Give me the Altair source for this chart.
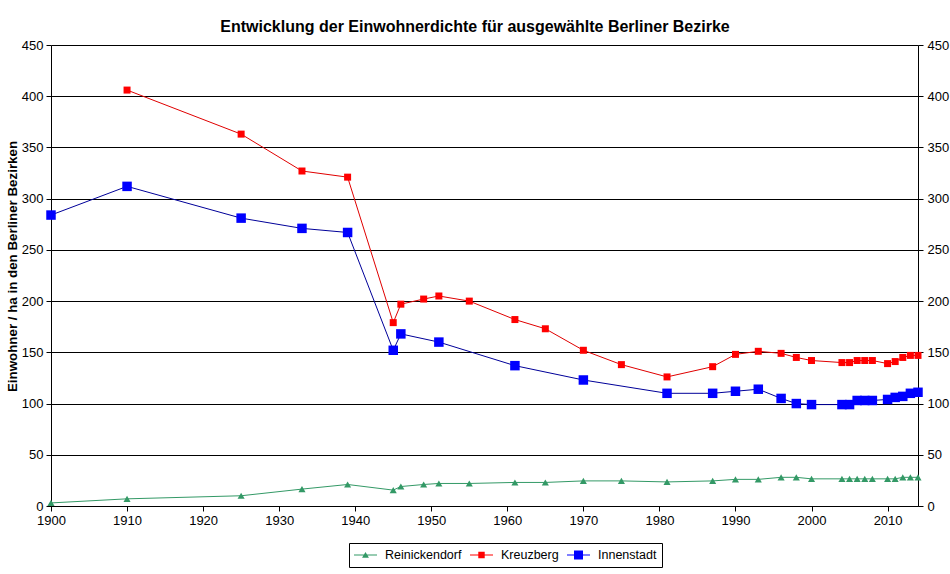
import altair as alt
import pandas as pd

# Einwohner je Hektar in ausgewählten Berliner Bezirken
jahre_reinickendorf = [1900, 1910, 1925, 1933, 1939, 1945, 1946, 1949, 1951, 1955,
                       1961, 1965, 1970, 1975, 1981, 1987, 1990, 1993, 1996, 1998,
                       2000, 2004, 2005, 2006, 2007, 2008, 2010, 2011, 2012, 2013, 2014]
werte_reinickendorf = [3, 7, 10, 16.5, 21, 15.5, 19, 21, 22, 22,
                       23, 23, 24.5, 24.5, 23.5, 24.5, 26, 26, 28, 28,
                       26.5, 26.5, 26.5, 26.5, 26.5, 26.5, 26.5, 26.5, 28, 28, 28]

jahre_kreuzberg = [1910, 1925, 1933, 1939, 1945, 1946, 1949, 1951, 1955, 1961,
                   1965, 1970, 1975, 1981, 1987, 1990, 1993, 1996, 1998, 2000,
                   2004, 2005, 2006, 2007, 2008, 2010, 2011, 2012, 2013, 2014]
werte_kreuzberg = [406, 363, 327, 321, 179, 197, 202, 205, 200, 182,
                   173, 152, 138, 126, 136, 148, 151, 149, 145, 142,
                   140, 140, 142, 142, 142, 139, 141, 145, 147, 147]

jahre_innenstadt = [1900, 1910, 1925, 1933, 1939, 1945, 1946, 1951, 1961, 1970,
                    1981, 1987, 1990, 1993, 1996, 1998, 2000,
                    2004, 2005, 2006, 2007, 2008, 2010, 2011, 2012, 2013, 2014]
werte_innenstadt = [284, 312, 281, 271, 267, 152, 168, 160, 137, 123,
                    110, 110, 112, 114, 105, 100, 99,
                    99, 99, 103, 103, 103, 104, 106, 107, 110, 111]

bezirke = ["Reinickendorf", "Kreuzberg", "Innenstadt"]
linienfarben = ["#339966", "#E00000", "#000099"]
markerfarben = ["#339966", "#FF0000", "#0000FF"]
markerformen = ["triangle-up", "square", "square"]
markergroessen = [50, 49, 90]

# Legendensymbole: Linienstück mit Marker (Einheit = halbe Symbolbreite)
symbolpfade = [
    "M-1,-0.045H1V0.045H-1Z M0,-0.27L0.3,0.23H-0.3Z",
    "M-1,-0.045H1V0.045H-1Z M-0.28,-0.28H0.28V0.28H-0.28Z",
    "M-1,-0.045H1V0.045H-1Z M-0.39,-0.39H0.39V0.39H-0.39Z",
]

jahr_ticks = list(range(1900, 2011, 10))
wert_ticks = list(range(0, 451, 50))

FONT = "Liberation Sans"

df = pd.concat([
    pd.DataFrame({"Jahr": jahre_reinickendorf, "Wert": werte_reinickendorf, "Bezirk": "Reinickendorf"}),
    pd.DataFrame({"Jahr": jahre_kreuzberg, "Wert": werte_kreuzberg, "Bezirk": "Kreuzberg"}),
    pd.DataFrame({"Jahr": jahre_innenstadt, "Wert": werte_innenstadt, "Bezirk": "Innenstadt"}),
], ignore_index=True)

achse = dict(labelFont=FONT, labelFontSize=13, labelColor="black",
             domainColor="black", domainWidth=1, tickColor="black", tickSize=5, tickWidth=1)

x_enc = alt.X("Jahr:Q",
              scale=alt.Scale(domain=[1900, 2014], nice=False, zero=False),
              axis=alt.Axis(values=jahr_ticks, format="d", title=None, grid=False,
                            labelPadding=3, labelFlush=False, labelOverlap=False, **achse))

y_scale = alt.Scale(domain=[0, 450], nice=False)
y_links = alt.Y("Wert:Q", scale=y_scale,
                axis=alt.Axis(values=wert_ticks, format="d", grid=True, gridColor="black",
                              gridOpacity=1, gridWidth=1, labelPadding=3,
                              title="Einwohner / ha in den Berliner Bezirken",
                              titleFont=FONT, titleFontSize=13.33, titleFontWeight="bold",
                              titleColor="black", titleAngle=-90, titleX=-35, titleY=221,
                              titleAlign="center", titleBaseline="alphabetic", **achse))
y_rechts = alt.Y("Wert:Q", scale=y_scale,
                 axis=alt.Axis(orient="right", values=wert_ticks, format="d", grid=False,
                               labelPadding=4, title=None, **achse))
y_ohne = alt.Y("Wert:Q", scale=y_scale, axis=None)

base = alt.Chart(df)

legende = alt.Legend(title=None, orient="none", legendX=298, legendY=498,
                     direction="horizontal", columns=3, padding=5, clipHeight=14,
                     strokeColor="black", fillColor="white", cornerRadius=0,
                     labelFont=FONT, labelFontSize=12.5, labelColor="black",
                     labelOffset=8, columnPadding=8,
                     symbolSize=529, symbolOpacity=1, symbolStrokeWidth=0)

schichten = []
for i, name in enumerate(bezirke):
    serie = base.transform_filter(alt.datum.Bezirk == name)
    schichten.append(
        serie.mark_line(color=linienfarben[i], strokeWidth=1).encode(
            x=x_enc, y=y_links if i == 0 else y_ohne)
    )
    schichten.append(
        serie.mark_point(shape=markerformen[i], size=markergroessen[i], filled=True,
                         color=markerfarben[i], opacity=1, strokeWidth=0).encode(
            x=x_enc, y=y_ohne)
    )

# unsichtbare Schicht: rechte Achse und Legende
schichten.append(
    base.mark_point(filled=True, opacity=0, size=529).encode(
        x=x_enc, y=y_rechts,
        shape=alt.Shape("Bezirk:N", scale=alt.Scale(domain=bezirke, range=symbolpfade), legend=legende),
        color=alt.Color("Bezirk:N", scale=alt.Scale(domain=bezirke, range=markerfarben), legend=legende),
    )
)

chart = alt.layer(*schichten).resolve_scale(y="shared").resolve_axis(y="independent").properties(
    width=867, height=461,
    autosize=alt.AutoSizeParams(type="none"),
    padding={"left": 51, "top": 45, "right": 32, "bottom": 68},
    title=alt.TitleParams("Entwicklung der Einwohnerdichte für ausgewählte Berliner Bezirke",
                          font=FONT, fontSize=16, fontWeight="bold", color="black",
                          anchor="middle", dx=-9.5),
    background="white",
).configure(font=FONT).configure_legend(
    labelFont=FONT, labelFontSize=12.5, labelColor="black"
).configure_view(stroke=None)

chart.save("out.html", embed_options={"renderer": "svg", "actions": False})
